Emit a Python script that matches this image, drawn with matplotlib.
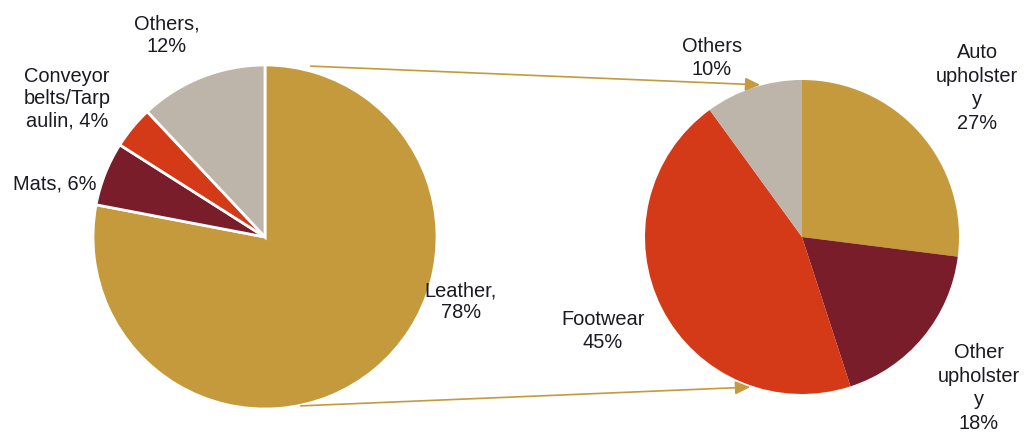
import matplotlib

matplotlib.use('Agg')
import matplotlib.pyplot as plt

# Données
left_labels = ["Leather,\n78%", "Mats, 6%", "Conveyor\nbelts/Tarp\naulin, 4%", "Others,\n12%"]
left_values = [78, 6, 4, 12]
left_colors = ["#C49A3C", "#7A1D2B", "#D43A17", "#BDB5A9"]

right_labels = ["Auto\nupholster\ny\n27%", "Other\nupholster\ny\n18%", "Footwear\n45%", "Others\n10%"]
right_values = [27, 18, 45, 10]
right_colors = ["#C49A3C", "#7A1D2B", "#D43A17", "#BDB5A9"]

# positions des étiquettes (pixels)
left_label_pos = [(461, 302), (55, 184), (67, 99), (167, 35)]
right_label_pos = [(977, 88), (979, 388), (603, 331), (712, 58)]

plt.rcParams['font.family'] = ['Liberation Sans', 'DejaVu Sans']

fig = plt.figure(figsize=(10.26, 4.32), dpi=100)
ax = fig.add_axes([0, 0, 1, 1])

# axe y inversé : départ en haut (-90) et sens horaire visuel (counterclock=True)
ax.pie(left_values, colors=left_colors, startangle=-90, counterclock=True,
       center=(265, 237), radius=172, frame=True,
       wedgeprops={'edgecolor': 'white', 'linewidth': 2})
ax.pie(right_values, colors=right_colors, startangle=-90, counterclock=True,
       center=(802, 237), radius=157, frame=True)

ax.set_xlim(0, 1026)
ax.set_ylim(432, 0)
ax.set_aspect('equal')
ax.axis('off')

for txt, (x, y) in zip(left_labels, left_label_pos):
    ax.text(x, y, txt, ha='center', va='center', fontsize=14.4, color='#1a1a24', linespacing=1.2)
for txt, (x, y) in zip(right_labels, right_label_pos):
    ax.text(x, y, txt, ha='center', va='center', fontsize=14.4, color='#1a1a24', linespacing=1.3)

# Flèches
arrow_style = dict(arrowstyle='-|>,head_length=0.9,head_width=0.4', color='#C49A3C', lw=1.2)
ax.annotate('', xy=(763, 85), xytext=(308, 66), arrowprops=arrow_style)
ax.annotate('', xy=(753, 387), xytext=(298, 406), arrowprops=arrow_style)

plt.savefig("out.png", dpi=100)
